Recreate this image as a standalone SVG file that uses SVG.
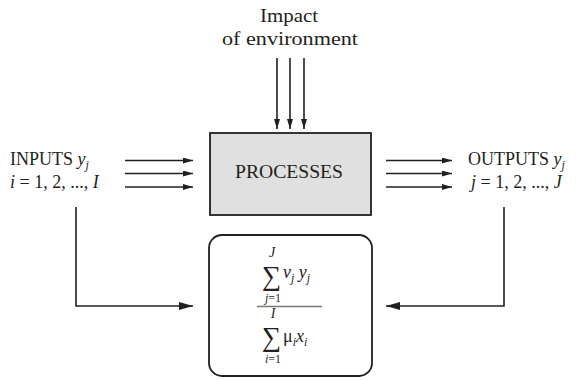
<svg xmlns="http://www.w3.org/2000/svg" width="577" height="380" viewBox="0 0 577 380">
<defs>
<style>
text{font-family:"Liberation Serif","DejaVu Serif",serif;fill:#231f20;}
.t{font-size:18px;}
.i{font-style:italic;}
.sub{font-size:12px;font-style:italic;}
.ln{stroke:#231f20;stroke-width:1.6;fill:none;}
</style>
<marker id="ah" viewBox="0 0 10 6" refX="10" refY="3" markerWidth="10" markerHeight="6" markerUnits="userSpaceOnUse" orient="auto">
<path d="M0,0 L10,3 L0,6 Z" fill="#231f20"/>
</marker>
<marker id="ahb" viewBox="0 0 14 8" refX="14" refY="4" markerWidth="14" markerHeight="8" markerUnits="userSpaceOnUse" orient="auto">
<path d="M0,0 L14,4 L0,8 Z" fill="#231f20"/>
</marker>
</defs>
<rect width="577" height="380" fill="#fff"/>
<g id="impact">
<text x="260" y="22" font-size="19" textLength="58" lengthAdjust="spacingAndGlyphs">Impact</text>
<text x="222" y="45" font-size="19" textLength="136" lengthAdjust="spacingAndGlyphs">of environment</text>
</g>
<g id="processes">
<rect x="210" y="133" width="161" height="82" fill="#e0e0e0" stroke="#231f20" stroke-width="1.8"/>
<text class="t" x="235" y="178" font-size="19" textLength="108" lengthAdjust="spacingAndGlyphs">PROCESSES</text>
</g>
<g id="inputs">
<text class="t" x="10" y="165">INPUTS <tspan class="i">y</tspan><tspan class="sub" dy="4">j</tspan></text>
<text class="t" x="10" y="188"><tspan class="i">i</tspan> = 1, 2, ..., <tspan class="i">I</tspan></text>
</g>
<g id="outputs">
<text class="t" x="468" y="165">OUTPUTS <tspan class="i">y</tspan><tspan class="sub" dy="4">j</tspan></text>
<text class="t" x="471" y="188"><tspan class="i">j</tspan> = 1, 2, ..., <tspan class="i">J</tspan></text>
</g>
<g id="ratio">
<rect x="209" y="235" width="163" height="141" rx="13" ry="13" fill="#fff" stroke="#231f20" stroke-width="1.8"/>
<text class="i" x="272" y="257" font-size="14" text-anchor="middle">J</text>
<text x="271.5" y="285" font-size="27" text-anchor="middle">∑</text>
<text class="t i" x="283" y="278">ν<tspan class="sub" dy="4">j</tspan><tspan dy="-4"> y</tspan><tspan class="sub" dy="4">j</tspan></text>
<text class="i" x="273" y="302" font-size="12" text-anchor="middle">j<tspan font-style="normal">=1</tspan></text>
<line x1="257" y1="306.5" x2="322" y2="306.5" stroke="#777" stroke-width="1.4"/>
<text class="i" x="273" y="318" font-size="14" text-anchor="middle">I</text>
<text x="271.5" y="346" font-size="27" text-anchor="middle">∑</text>
<text class="t" x="283" y="342">μ<tspan class="sub" dy="4">i</tspan><tspan class="i" dy="-4">x</tspan><tspan class="sub" dy="4">i</tspan></text>
<text class="i" x="273" y="363" font-size="12" text-anchor="middle">i<tspan font-style="normal">=1</tspan></text>
</g>
<g id="connectors" class="ln">
<line x1="277" y1="58" x2="277" y2="129" marker-end="url(#ah)"/>
<line x1="290" y1="58" x2="290" y2="129" marker-end="url(#ah)"/>
<line x1="304" y1="58" x2="304" y2="129" marker-end="url(#ah)"/>
<line x1="125" y1="160.5" x2="193" y2="160.5" marker-end="url(#ah)"/>
<line x1="125" y1="173.5" x2="193" y2="173.5" marker-end="url(#ah)"/>
<line x1="125" y1="187" x2="193" y2="187" marker-end="url(#ah)"/>
<line x1="386" y1="160.5" x2="452" y2="160.5" marker-end="url(#ah)"/>
<line x1="386" y1="173.5" x2="452" y2="173.5" marker-end="url(#ah)"/>
<line x1="386" y1="187" x2="452" y2="187" marker-end="url(#ah)"/>
<polyline points="76,207 76,306 193,306" marker-end="url(#ahb)"/>
<polyline points="504,207 504,306 386,306" marker-end="url(#ahb)"/>
</g>
</svg>
